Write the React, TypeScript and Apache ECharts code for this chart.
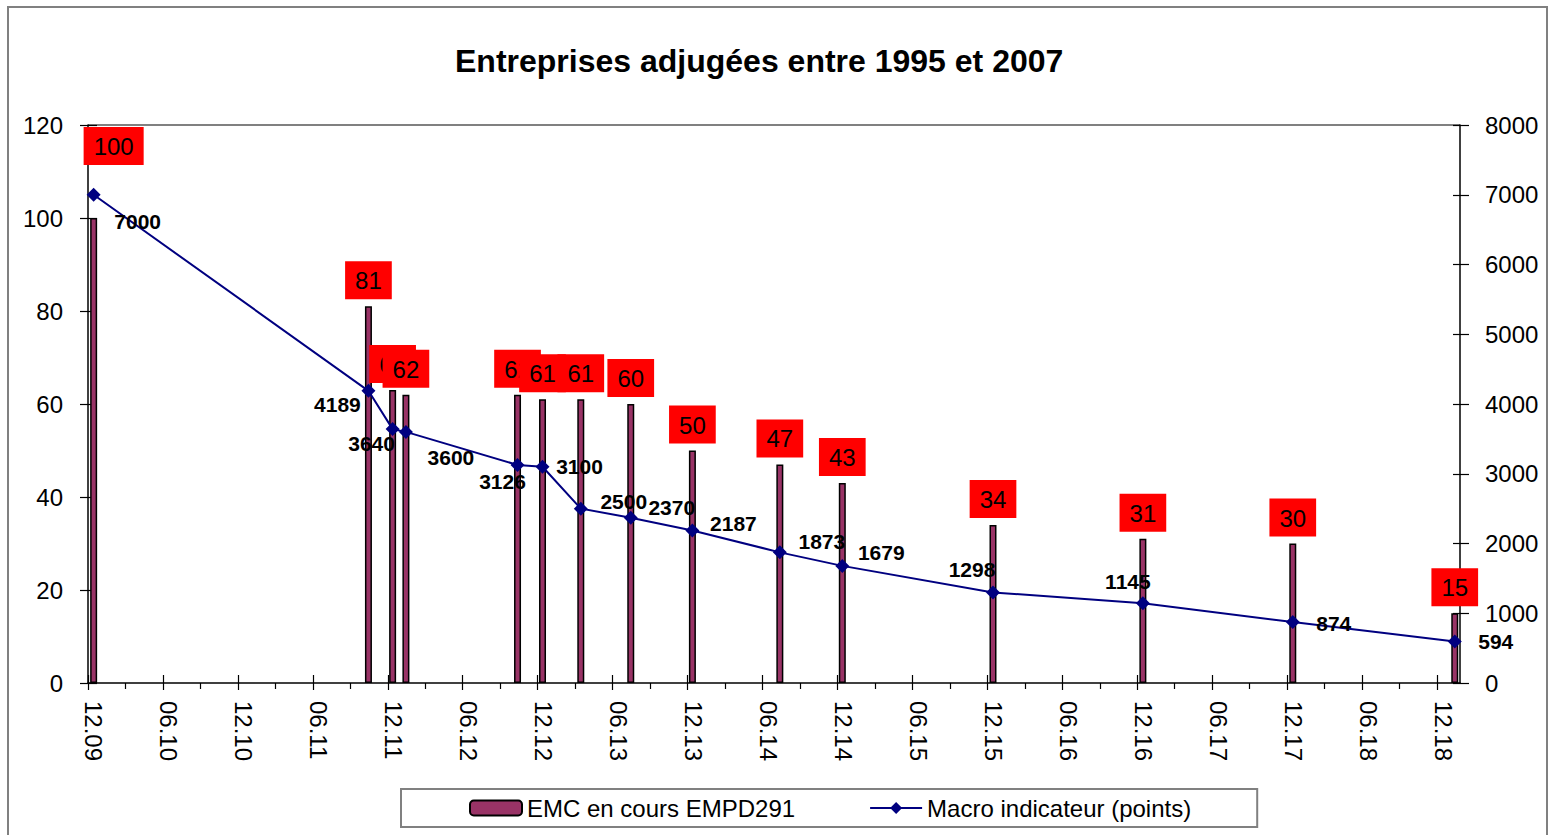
import React, { useEffect, useRef } from 'react';
import * as echarts from 'echarts';

// ---- data ----
const dates = [
  '2009-12-15', '2011-10-15', '2011-12-13', '2012-01-15', '2012-10-13',
  '2012-12-13', '2013-03-15', '2013-07-15', '2013-12-13', '2014-07-13',
  '2014-12-13', '2015-12-15', '2016-12-15', '2017-12-15', '2019-01-14',
];
const emcValues = [100, 81, 63, 62, 62, 61, 61, 60, 50, 47, 43, 34, 31, 30, 15];
const macroValues = [7000, 4189, 3640, 3600, 3126, 3100, 2500, 2370, 2187, 1873, 1679, 1298, 1145, 874, 594];
const tickLabels = [
  '12.09', '06.10', '12.10', '06.11', '12.11', '06.12', '12.12', '06.13', '12.13', '06.14',
  '12.14', '06.15', '12.15', '06.16', '12.16', '06.17', '12.17', '06.18', '12.18',
];
const axisEndDate = '2019-01-27';
const seriesNames = ['EMC en cours EMPD291', 'Macro indicateur (points)'];
const titleText = 'Entreprises adjugées entre 1995 et 2007';

// label placement (style only)
const macroLabelOffsets = [
  [44, 27], [-31, 14], [-21, 14], [45, 26], [-15, 17], [37, 0], [43, -7], [41, -10],
  [41, -7], [42, -11], [39, -13], [-21, -23], [-15, -22], [41, 1], [41, 0],
];
const firstBarLabelOffset = [20, -46];
const xLabelShift = 0.48; // tick labels sit slightly right of their ticks

const FONT = '"Liberation Sans", Arial, sans-serif';

function monthsFromStart(d: string): number {
  const [y, m, day] = d.split('-').map(Number);
  return (y - 2009) * 12 + (m - 12) + (day - 1) / 31;
}

export default function App() {
  const ref = useRef<HTMLDivElement>(null);

  useEffect(() => {
    if (!ref.current) return;
    const chart = echarts.init(ref.current, undefined, { renderer: 'svg' });

    const xMax = monthsFromStart(axisEndDate);
    const majorTicks = tickLabels.map((_, i) => i * 6);
    const minorTicks = tickLabels.slice(0, -1).map((_, i) => i * 6 + 3);

    const barData = dates.map((d, i) => {
      const item: any = { value: [monthsFromStart(d), emcValues[i]] };
      if (i === 0) item.label = { offset: firstBarLabelOffset };
      return item;
    });
    const lineData = dates.map((d, i) => ({
      value: [monthsFromStart(d), macroValues[i]],
      label: { offset: macroLabelOffsets[i] },
    }));

    const hiddenLine = { show: false, onZero: false };
    const mainLine = { show: true, onZero: false, lineStyle: { color: '#000', width: 1.5 } };
    const tickStyle = { color: '#000', width: 1.2 };

    const xBase = {
      type: 'value',
      min: 0,
      max: xMax,
      position: 'bottom',
      splitLine: { show: false },
    };
    const yLeftBase = { type: 'value', min: 0, max: 120, interval: 20, position: 'left', splitLine: { show: false } };
    const yRightBase = { type: 'value', min: 0, max: 8000, interval: 1000, position: 'right', splitLine: { show: false } };

    const option: any = {
      animation: false,
      backgroundColor: '#fff',
      textStyle: { fontFamily: FONT },
      title: {
        text: titleText,
        left: 450,
        top: 40,
        textStyle: { fontSize: 32, fontWeight: 'bold', color: '#000', fontFamily: FONT },
      },
      legend: {
        left: 401,
        top: 789,
        itemWidth: 52,
        itemHeight: 15,
        itemGap: 74,
        padding: [7, 66, 7, 68],
        borderColor: '#808080',
        borderWidth: 2,
        textStyle: { fontSize: 24, color: '#000', fontFamily: FONT },
        data: seriesNames,
      },
      grid: { left: 88, right: 95, top: 125, bottom: 152 },
      graphic: [
        {
          type: 'rect',
          shape: { x: 8, y: 7, width: 1539, height: 840 },
          style: { fill: 'none', stroke: '#808080', lineWidth: 2 },
          silent: true,
        },
        {
          type: 'line',
          shape: { x1: 88, y1: 125, x2: 1460, y2: 125 },
          style: { stroke: '#808080', lineWidth: 2 },
          silent: true,
        },
      ],
      xAxis: [
        {
          ...xBase,
          axisLine: mainLine,
          axisTick: { show: true, customValues: majorTicks, length: 7, lineStyle: tickStyle },
          axisLabel: { show: false },
        },
        {
          ...xBase,
          axisLine: hiddenLine,
          axisTick: { show: true, inside: true, customValues: majorTicks, length: 8, lineStyle: tickStyle },
          axisLabel: { show: false },
        },
        {
          ...xBase,
          axisLine: hiddenLine,
          axisTick: { show: true, customValues: minorTicks, length: 6, lineStyle: tickStyle },
          axisLabel: { show: false },
        },
        {
          ...xBase,
          min: -xLabelShift,
          max: xMax - xLabelShift,
          axisLine: hiddenLine,
          axisTick: { show: false },
          axisLabel: {
            customValues: majorTicks,
            formatter: (v: number) => (Number.isInteger(v / 6) && tickLabels[v / 6]) || '',
            rotate: -90,
            margin: 18,
            fontSize: 24,
            color: '#000',
            fontFamily: FONT,
          },
        },
      ],
      yAxis: [
        {
          ...yLeftBase,
          axisLine: mainLine,
          axisTick: { show: true, length: 8, lineStyle: tickStyle },
          axisLabel: { margin: 25, fontSize: 24, color: '#000', fontFamily: FONT },
        },
        {
          ...yRightBase,
          axisLine: mainLine,
          axisTick: { show: true, length: 9, lineStyle: tickStyle },
          axisLabel: {
            margin: 25,
            fontSize: 24,
            color: '#000',
            fontFamily: FONT,
            formatter: (v: number) => String(v),
          },
        },
        {
          ...yLeftBase,
          axisLine: hiddenLine,
          axisTick: { show: true, inside: true, length: 9, lineStyle: tickStyle },
          axisLabel: { show: false },
        },
        {
          ...yRightBase,
          axisLine: hiddenLine,
          axisTick: { show: true, inside: true, length: 7, lineStyle: tickStyle },
          axisLabel: { show: false },
        },
      ],
      series: [
        {
          name: seriesNames[0],
          type: 'bar',
          xAxisIndex: 0,
          yAxisIndex: 0,
          barWidth: 7,
          z: 2,
          itemStyle: { color: '#993366', borderColor: '#000', borderWidth: 1.5 },
          label: {
            show: true,
            position: 'top',
            distance: 7,
            fontSize: 24,
            color: '#000',
            fontFamily: FONT,
            backgroundColor: '#ff0000',
            padding: [7, 10, 6, 10],
            lineHeight: 25,
          },
          data: barData,
        },
        {
          name: seriesNames[1],
          type: 'line',
          xAxisIndex: 0,
          yAxisIndex: 1,
          z: 3,
          symbol: 'diamond',
          symbolSize: 14,
          lineStyle: { color: '#000080', width: 2 },
          itemStyle: { color: '#000080' },
          label: {
            show: true,
            position: 'inside',
            fontSize: 21,
            fontWeight: 'bold',
            color: '#000',
            fontFamily: FONT,
          },
          data: lineData,
        },
      ],
    };

    chart.setOption(option);
    return () => chart.dispose();
  }, []);

  return (
    <div
      ref={ref}
      style={{ position: 'absolute', left: 0, top: 0, width: 1555, height: 835, background: '#fff' }}
    />
  );
}
